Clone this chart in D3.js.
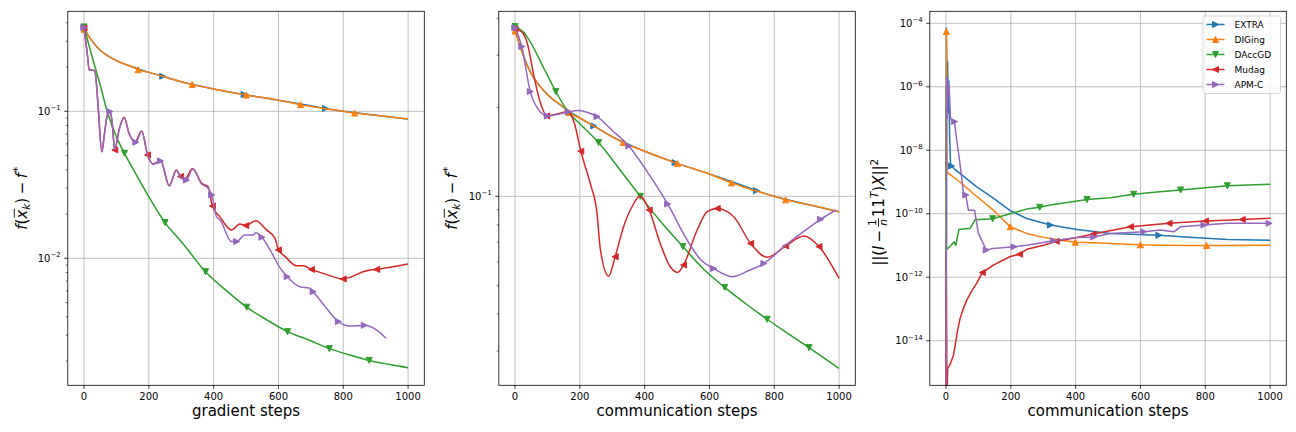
<!DOCTYPE html>
<html><head><meta charset="utf-8">
<script src="https://cdn.jsdelivr.net/npm/d3@7"></script>
<style>body{margin:0;background:#fff}svg{display:block}text{font-family:"DejaVu Sans",sans-serif;fill:#000}</style>
</head><body><svg id="c" width="1296" height="432"></svg>
<script>
// ---------------- DATA ----------------
const seriesNames = ["EXTRA", "DIGing", "DAccGD", "Mudag", "APM-C"];
const xTicks = [0, 200, 400, 600, 800, 1000];
const p1YTickExp = [-1, -2];
const p2YTickExp = [-1];
const p3YTickExp = [-4, -6, -8, -10, -12, -14];
const xLabels = ["gradient steps", "communication steps", "communication steps"];

// EXTRA / DIGing (same in gradient and communication steps)
const extraCurve = [[0,0.372],[10,0.336],[25,0.301],[50,0.260],[75,0.237],[100,0.221],[150,0.200],[200,0.184],[243,0.173],[300,0.159],[400,0.142],[494,0.130],[600,0.119],[700,0.109],[745,0.1045],[800,0.100],[900,0.094],[1000,0.0887]];
const extraMarks = [0, 243, 494, 745];
const digingCurve = [[0,0.362],[10,0.335],[25,0.300],[50,0.260],[75,0.237],[100,0.221],[150,0.200],[167,0.192],[200,0.184],[250,0.171],[300,0.159],[334,0.152],[400,0.142],[501,0.129],[600,0.119],[668,0.111],[700,0.108],[800,0.100],[835,0.0973],[900,0.094],[1000,0.0887]];
const digingMarks = [0, 167, 334, 501, 668, 835];

// Panel 1: gradient steps
const p1Daccgd = [[0,0.375],[25,0.235],[50,0.151],[72,0.099],[100,0.067],[125,0.0518],[150,0.041],[200,0.0262],[250,0.0175],[300,0.0130],[375,0.0081],[440,0.0060],[502,0.00465],[565,0.0038],[628,0.00317],[690,0.0028],[757,0.00243],[820,0.0022],[880,0.00202],[940,0.0019],[1000,0.0018]];
const p1DaccgdMarks = [0, 125, 250, 375, 502, 628, 757, 880];
const p1Mudag = [[0,0.368],[10,0.248],[16,0.191],[26,0.191],[34,0.186],[43,0.113],[55,0.053],[62,0.067],[70,0.090],[78,0.0995],[86,0.087],[95,0.0546],[108,0.0746],[124,0.091],[139,0.0709],[158,0.0621],[178,0.0735],[196,0.0505],[213,0.0439],[237,0.0461],[263,0.0312],[285,0.0399],[298,0.036],[311,0.0344],[335,0.0409],[363,0.0324],[383,0.0307],[396,0.0227],[419,0.0192],[455,0.0156],[481,0.0171],[499,0.0167],[530,0.018],[563,0.0156],[589,0.0137],[600,0.0114],[620,0.0103],[656,0.0089],[677,0.0089],[702,0.0084],[738,0.0079],[800,0.00723],[872,0.00824],[903,0.0084],[1000,0.00914]];
const p1MudagMarks = [0, 95, 196, 298, 396, 499, 600, 702, 800, 903];
const p1Apm = [[0,0.372],[10,0.248],[16,0.191],[26,0.191],[34,0.186],[43,0.113],[55,0.053],[62,0.067],[70,0.090],[80,0.0995],[86,0.088],[95,0.055],[108,0.074],[124,0.0905],[139,0.0705],[160,0.0615],[178,0.073],[196,0.051],[213,0.0435],[236,0.046],[263,0.031],[285,0.0395],[298,0.0355],[316,0.0340],[335,0.0405],[363,0.032],[383,0.030],[394,0.027],[409,0.0192],[420,0.0182],[455,0.0130],[471,0.013],[496,0.0144],[522,0.0144],[530,0.0149],[549,0.0139],[574,0.0114],[605,0.0086],[627,0.0075],[666,0.0064],[697,0.00625],[707,0.00593],[744,0.00469],[785,0.00371],[821,0.00346],[865,0.0035],[903,0.00325],[932,0.00286]];
const p1ApmMarks = [0, 80, 160, 236, 316, 394, 471, 549, 627, 707, 785, 865];

// Panel 2: communication steps
const p2Daccgd = [[0,0.375],[25,0.36],[47,0.333],[89,0.271],[126,0.226],[164,0.193],[200,0.176],[258,0.152],[320,0.1245],[387,0.100],[450,0.082],[518,0.0676],[580,0.057],[647,0.0492],[710,0.0435],[778,0.0384],[840,0.0345],[907,0.0308],[1000,0.0262]];
const p2DaccgdMarks = [0, 126, 258, 387, 518, 647, 778, 907];
const p2Mudag = [[0,0.368],[20,0.36],[38,0.329],[59,0.253],[79,0.206],[98,0.187],[131,0.19],[162,0.193],[183,0.177],[203,0.142],[232,0.1107],[253,0.0877],[263,0.0667],[289,0.0537],[309,0.0625],[335,0.0789],[361,0.0922],[385,0.1],[414,0.0899],[448,0.0693],[479,0.0578],[502,0.0553],[520,0.0586],[562,0.0769],[593,0.0887],[624,0.091],[655,0.0887],[675,0.0853],[727,0.0693],[778,0.0622],[835,0.0679],[892,0.0734],[938,0.0676],[1000,0.0528]];
const p2MudagMarks = [0, 98, 203, 309, 414, 520, 624, 727, 835, 938];
const p2Apm = [[0,0.372],[21,0.321],[47,0.226],[73,0.196],[100,0.187],[130,0.189],[164,0.193],[196,0.195],[225,0.192],[253,0.186],[300,0.167],[351,0.148],[418,0.1165],[471,0.0942],[531,0.0712],[572,0.0612],[613,0.057],[670,0.0535],[720,0.056],[768,0.0593],[835,0.0684],[890,0.076],[943,0.0836],[990,0.0899]];
const p2ApmMarks = [0, 21, 47, 100, 164, 253, 351, 471, 613, 768, 943];

// Panel 3: consensus error
const p3Extra = [[0,1e-16],[1,7e-5],[3,3e-6],[5,6e-6],[7,1.5e-7],[9,1.5e-6],[11,3e-8],[14,3.5e-9],[17,3.2e-9],[25,2.6e-9],[43,1.86e-9],[95,7e-10],[146,3.1e-10],[198,1.26e-10],[249,7.1e-11],[322,4.4e-11],[404,3.2e-11],[507,2.4e-11],[657,2.1e-11],[765,1.8e-11],[868,1.55e-11],[1000,1.45e-11]];
const p3ExtraMarks = [17, 322, 657];
const p3Diging = [[0,1e-16],[1,5.5e-5],[2,3e-7],[3,2e-9],[10,1.8e-9],[43,1.0e-9],[95,3.5e-10],[146,1.3e-10],[198,3.9e-11],[249,2.4e-11],[301,1.8e-11],[353,1.5e-11],[399,1.27e-11],[456,1.23e-11],[559,1.1e-11],[600,1.05e-11],[662,1.02e-11],[765,1.0e-11],[804,1.0e-11],[1000,1.02e-11]];
const p3DigingMarks = [1, 198, 399, 600, 804];
const p3Daccgd = [[0,1e-16],[1,1e-6],[2,7.5e-12],[15,1e-11],[25,1.3e-11],[30,1.0e-11],[40,3.2e-11],[75,3.5e-11],[90,6.5e-11],[144,7e-11],[198,1.0e-10],[249,1.4e-10],[289,1.6e-10],[322,1.9e-10],[435,2.8e-10],[507,3.2e-10],[579,4.1e-10],[650,4.8e-10],[724,5.6e-10],[800,6.6e-10],[868,7.6e-10],[1000,8.5e-10]];
const p3DaccgdMarks = [144, 289, 435, 579, 724, 868];
const p3Mudag = [[0,1e-16],[1,6e-12],[3,1e-16],[5,1.3e-15],[10,1.6e-15],[16,2.2e-15],[23,3.5e-15],[30,9e-15],[36,2.2e-14],[43,4.8e-14],[53,1.0e-13],[64,1.9e-13],[80,3.8e-13],[95,6.5e-13],[112,1.4e-12],[146,2.4e-12],[198,4.5e-12],[227,5.3e-12],[249,7.6e-12],[301,1.02e-11],[340,1.35e-11],[404,1.78e-11],[454,2.3e-11],[569,3.9e-11],[688,5.0e-11],[801,5.9e-11],[914,6.6e-11],[1000,7.2e-11]];
const p3MudagMarks = [112, 227, 340, 454, 569, 688, 801, 914];
const p3Apm = [[0,1e-16],[2,2e-6],[4,1e-7],[6,1.5e-6],[10,8e-7],[14,1e-7],[18,9e-8],[26,8e-8],[33,2.1e-8],[43,3.9e-9],[50,1e-9],[54,4.4e-10],[61,3.9e-10],[69,1.3e-10],[88,1.3e-10],[100,2.4e-11],[124,7.2e-12],[146,8.1e-12],[210,9.1e-12],[249,1.02e-11],[332,1.4e-11],[404,1.8e-11],[456,1.85e-11],[507,2.4e-11],[610,2.7e-11],[662,3.1e-11],[703,2.7e-11],[724,3.9e-11],[796,4.4e-11],[868,5e-11],[997,5e-11]];
const p3ApmMarks = [26, 61, 124, 210, 332, 456, 610, 796, 997];

// ---------------- STYLE ----------------
const colors = ["#1f77b4", "#ff7f0e", "#2ca02c", "#d62728", "#9467bd"];
const markerTypes = [">", "^", "v", "<", ">"];

const svg = d3.select("#c");
const defs = svg.append("defs");

const panels = [
  {left: 67.8, top: 11.3, w: 356.5, h: 374, ylog: [-2.864, -0.3197], yExp: p1YTickExp, xlabel: xLabels[0], curve: d3.curveMonotoneX,
   series: [[extraCurve, extraMarks], [digingCurve, digingMarks], [p1Daccgd, p1DaccgdMarks], [p1Mudag, p1MudagMarks], [p1Apm, p1ApmMarks]], minor: true, ylab: "f", ylabX: 41},
  {left: 498.8, top: 11.3, w: 356.5, h: 374, ylog: [-1.639, -0.3744], yExp: p2YTickExp, xlabel: xLabels[1], curve: d3.curveMonotoneX,
   series: [[extraCurve, extraMarks], [digingCurve, digingMarks], [p2Daccgd, p2DaccgdMarks], [p2Mudag, p2MudagMarks], [p2Apm, p2ApmMarks]], minor: true, ylab: "f", ylabX: 42},
  {left: 929.8, top: 11.3, w: 356.5, h: 374, ylog: [-15.405, -3.622], yExp: p3YTickExp, xlabel: xLabels[2], curve: d3.curveLinear,
   series: [[p3Extra, p3ExtraMarks], [p3Diging, p3DigingMarks], [p3Daccgd, p3DaccgdMarks], [p3Mudag, p3MudagMarks], [p3Apm, p3ApmMarks]], minor: false, ylab: "cons", ylabX: 46, legend: true}
];

function markerPath(t) {
  const s = 3;
  if (t === ">") return `M${s},0L${-s},${-s}L${-s},${s}Z`;
  if (t === "<") return `M${-s},0L${s},${-s}L${s},${s}Z`;
  if (t === "^") return `M0,${-s}L${-s},${s}L${s},${s}Z`;
  return `M0,${s}L${-s},${-s}L${s},${-s}Z`;
}

function mathLabel(parent, cx, cy, pieces) {
  const g = parent.append("g").attr("transform", `translate(${cx},${cy}) rotate(-90)`);
  const inner = g.append("g");
  let x = 0;
  pieces.forEach(p => {
    if (p.frac) {
      const fs = 10.5;
      const a = inner.append("text").attr("font-size", fs).attr("y", -8).text(p.frac[0]);
      const b = inner.append("text").attr("font-size", fs).attr("y", 3).attr("font-style", "italic").text(p.frac[1]);
      const wa = a.node().getComputedTextLength(), wb = b.node().getComputedTextLength();
      const w = Math.max(wa, wb) + 2;
      a.attr("x", x + (w - wa) / 2);
      b.attr("x", x + (w - wb) / 2);
      inner.append("line").attr("x1", x).attr("x2", x + w).attr("y1", -5.3).attr("y2", -5.3).attr("stroke", "#000").attr("stroke-width", 0.8);
      x += w + 1;
      return;
    }
    const t = inner.append("text").attr("x", x).attr("y", p.dy || 0).attr("font-size", p.fs || 15).text(p.t);
    if (p.it) t.attr("font-style", "italic");
    const w = t.node().getComputedTextLength();
    if (p.over) inner.append("line").attr("x1", x + 1).attr("x2", x + w + 1).attr("y1", -12.5).attr("y2", -12.5).attr("stroke", "#000").attr("stroke-width", 0.9);
    x += w + (p.sp || 0);
  });
  inner.attr("transform", `translate(${-x / 2},0)`);
}

panels.forEach((P, pi) => {
  const x = d3.scaleLinear().domain([-50, 1050]).range([P.left, P.left + P.w]);
  const y = d3.scaleLog().domain([Math.pow(10, P.ylog[0]), Math.pow(10, P.ylog[1])]).range([P.top + P.h, P.top]);
  const g = svg.append("g");
  const clipId = "clip" + pi;
  defs.append("clipPath").attr("id", clipId).append("rect").attr("x", P.left).attr("y", P.top).attr("width", P.w).attr("height", P.h);

  // grid
  const majors = P.yExp.map(e => Math.pow(10, e));
  g.append("g").selectAll("line.gx").data(xTicks).join("line")
    .attr("x1", d => x(d)).attr("x2", d => x(d)).attr("y1", P.top).attr("y2", P.top + P.h)
    .attr("stroke", "#b0b0b0").attr("stroke-width", 0.8);
  g.append("g").selectAll("line.gy").data(majors).join("line")
    .attr("x1", P.left).attr("x2", P.left + P.w).attr("y1", d => y(d)).attr("y2", d => y(d))
    .attr("stroke", "#b0b0b0").attr("stroke-width", 0.8);

  // series
  const plot = g.append("g").attr("clip-path", `url(#${clipId})`);
  const line = d3.line().x(d => x(d[0])).y(d => y(d[1])).curve(P.curve);
  P.series.forEach((s, si) => {
    const [data, marks] = s;
    plot.append("path").datum(data).attr("d", line).attr("fill", "none")
      .attr("stroke", colors[si]).attr("stroke-width", 1.5).attr("stroke-linejoin", "round");
    const mdata = data.filter(d => marks.includes(d[0]));
    plot.append("g").selectAll("path").data(mdata).join("path")
      .attr("transform", d => `translate(${x(d[0])},${y(d[1])})`)
      .attr("d", markerPath(markerTypes[si])).attr("fill", colors[si]).attr("stroke", colors[si]).attr("stroke-width", 1);
  });

  // spines
  g.append("rect").attr("x", P.left).attr("y", P.top).attr("width", P.w).attr("height", P.h)
    .attr("fill", "none").attr("stroke", "#000").attr("stroke-width", 0.8);

  // x ticks
  const bottom = P.top + P.h;
  g.append("g").selectAll("line").data(xTicks).join("line")
    .attr("x1", d => x(d)).attr("x2", d => x(d)).attr("y1", bottom).attr("y2", bottom + 3.5)
    .attr("stroke", "#000").attr("stroke-width", 0.8);
  g.append("g").selectAll("text").data(xTicks).join("text")
    .attr("x", d => x(d)).attr("y", bottom + 15).attr("text-anchor", "middle").attr("font-size", 10).text(d => d);
  g.append("text").attr("x", P.left + P.w / 2).attr("y", bottom + 30.5).attr("text-anchor", "middle")
    .attr("font-size", 15).text(P.xlabel);

  // y ticks
  g.append("g").selectAll("line").data(majors).join("line")
    .attr("x1", P.left - 3.5).attr("x2", P.left).attr("y1", d => y(d)).attr("y2", d => y(d))
    .attr("stroke", "#000").attr("stroke-width", 0.8);
  if (P.minor) {
    const minors = [];
    for (let e = Math.floor(P.ylog[0]); e <= Math.ceil(P.ylog[1]); e++) {
      for (let m = 2; m <= 9; m++) {
        const v = m * Math.pow(10, e);
        const lv = Math.log10(v);
        if (lv > P.ylog[0] && lv < P.ylog[1]) minors.push(v);
      }
    }
    g.append("g").selectAll("line").data(minors).join("line")
      .attr("x1", P.left - 2).attr("x2", P.left).attr("y1", d => y(d)).attr("y2", d => y(d))
      .attr("stroke", "#000").attr("stroke-width", 0.6);
  }
  const yt = g.append("g").selectAll("text").data(P.yExp).join("text")
    .attr("x", P.left - 7).attr("y", d => y(Math.pow(10, d)) + 3.6).attr("text-anchor", "end").attr("font-size", 10);
  yt.append("tspan").text("10");
  yt.append("tspan").attr("font-size", 7).attr("dy", -4.5).text(d => "\u2212" + Math.abs(d));

  // y label
  const cy = P.top + P.h / 2;
  if (P.ylab === "f") {
    mathLabel(g, P.left - P.ylabX + 0, cy, [
      {t: "f", it: true}, {t: "("}, {t: "x", it: true, over: true}, {t: "k", it: true, fs: 10.5, dy: 3.5},
      {t: ")", sp: 3.5}, {t: "\u2212", sp: 3.5}, {t: "f", it: true, sp: 1}, {t: "*", fs: 10.5, dy: -6}
    ]);
  } else {
    mathLabel(g, P.left - P.ylabX, cy + 14, [
      {t: "||("}, {t: "I", it: true, sp: 3}, {t: "\u2212", sp: 3}, {frac: ["1", "n"]},
      {t: "11"}, {t: "T", it: true, fs: 10.5, dy: -6}, {t: ")"}, {t: "X", it: true}, {t: "||"}, {t: "2", fs: 10.5, dy: -6}
    ]);
  }

  // legend
  if (P.legend) {
    const lx = 1203, ly = 16;
    const lg = g.append("g");
    lg.append("rect").attr("x", lx).attr("y", ly).attr("width", 77.5).attr("height", 77.5).attr("rx", 2)
      .attr("fill", "#fff").attr("fill-opacity", 0.8).attr("stroke", "#cccccc").attr("stroke-width", 0.8);
    seriesNames.forEach((n, i) => {
      const ry = ly + 8.5 + i * 15;
      lg.append("line").attr("x1", lx + 3.5).attr("x2", lx + 21.5).attr("y1", ry).attr("y2", ry)
        .attr("stroke", colors[i]).attr("stroke-width", 1.5);
      lg.append("path").attr("transform", `translate(${lx + 12.5},${ry})`).attr("d", markerPath(markerTypes[i]))
        .attr("fill", colors[i]).attr("stroke", colors[i]).attr("stroke-width", 1);
      lg.append("text").attr("x", lx + 31.5).attr("y", ry + 3.3).attr("font-size", 9).text(n);
    });
  }
});
</script></body></html>
